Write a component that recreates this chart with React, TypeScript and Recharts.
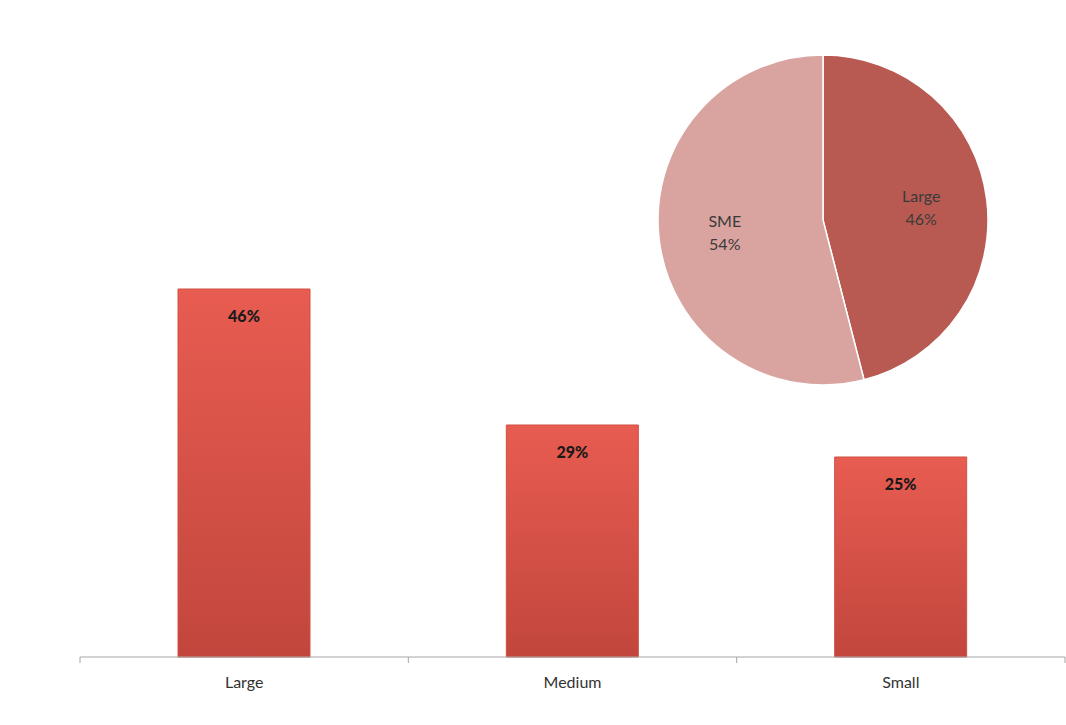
import {
  BarChart,
  Bar,
  XAxis,
  YAxis,
  LabelList,
  PieChart,
  Pie,
  Cell,
} from "recharts";

const categories = ["Large", "Medium", "Small"];
const shares = [46, 29, 25];
const pieNames = ["Large", "SME"];
const pieShares = [46, 54];
const pieColors = ["#b85a52", "#d9a3a0"];

const FONT = "Lato, 'Open Sans', sans-serif";
const TICK_MARGIN = 20;

const RAD = Math.PI / 180;

// category label plus Excel-style tick marks on the band boundaries
function CatTick(props: any) {
  const { x, y, payload, index, visibleTicksCount } = props;
  const half = payload.offset || 0;
  const axisY = y - TICK_MARGIN;
  const last = index === visibleTicksCount - 1;
  return (
    <g>
      <line x1={x - half} x2={x - half} y1={axisY} y2={axisY + 6} stroke="#a6a6a6" />
      {last && <line x1={x + half} x2={x + half} y1={axisY} y2={axisY + 6} stroke="#a6a6a6" />}
      <text x={x} y={y} dy="0.71em" textAnchor="middle" fontSize={16} fill="#333" fontFamily={FONT}>
        {payload.value}
      </text>
    </g>
  );
}

function PieLabel(props: any) {
  const { cx, cy, midAngle, outerRadius, name, value } = props;
  const r = outerRadius * 0.6;
  const x = cx + r * Math.cos(-midAngle * RAD);
  const y = cy + r * Math.sin(-midAngle * RAD);
  return (
    <text x={x} y={y} textAnchor="middle" fill="#3a3a3a" fontSize={16} fontFamily={FONT}>
      <tspan x={x} dy="-0.35em">{name}</tspan>
      <tspan x={x} dy="1.45em">{value}%</tspan>
    </text>
  );
}

export default function App() {
  const barData = categories.map((name, i) => ({ name, value: shares[i] }));
  const pieData = pieNames.map((name, i) => ({ name, value: pieShares[i] }));

  return (
    <div style={{ position: "absolute", left: 0, top: 0, width: 1066, height: 725, background: "#fff" }}>
      <BarChart
        width={1066}
        height={725}
        data={barData}
        margin={{ top: 257, right: 1, bottom: 28, left: 80 }}
        barSize={132}
      >
        <defs>
          <linearGradient id="barFill" x1="0" y1="0" x2="0" y2="1">
            <stop offset="0%" stopColor="#e85c51" />
            <stop offset="100%" stopColor="#c2463d" />
          </linearGradient>
        </defs>
        <XAxis
          dataKey="name"
          axisLine={{ stroke: "#a6a6a6" }}
          tickLine={false}
          tickSize={0}
          tickMargin={TICK_MARGIN}
          height={40}
          interval={0}
          tick={<CatTick />}
        />
        <YAxis hide domain={[0, 50]} />
        <Bar
          dataKey="value"
          fill="url(#barFill)"
          stroke="#cf5045"
          strokeWidth={1}
          isAnimationActive={false}
        >
          <LabelList
            dataKey="value"
            position="insideTop"
            offset={22}
            formatter={(v: any) => `${v}%`}
            style={{ fontSize: 16, fontWeight: 900, fill: "#1a1a1a", fontFamily: FONT }}
          />
        </Bar>
      </BarChart>
      <div style={{ position: "absolute", left: 653, top: 50 }}>
        <PieChart width={340} height={340} margin={{ top: 0, right: 0, bottom: 0, left: 0 }}>
          <Pie
            data={pieData}
            dataKey="value"
            nameKey="name"
            cx={170}
            cy={170}
            outerRadius={165}
            startAngle={90}
            endAngle={-270}
            stroke="#ffffff"
            strokeWidth={1.5}
            labelLine={false}
            label={PieLabel}
            isAnimationActive={false}
          >
            {pieData.map((d, i) => (
              <Cell key={d.name} fill={pieColors[i]} />
            ))}
          </Pie>
        </PieChart>
      </div>
    </div>
  );
}
